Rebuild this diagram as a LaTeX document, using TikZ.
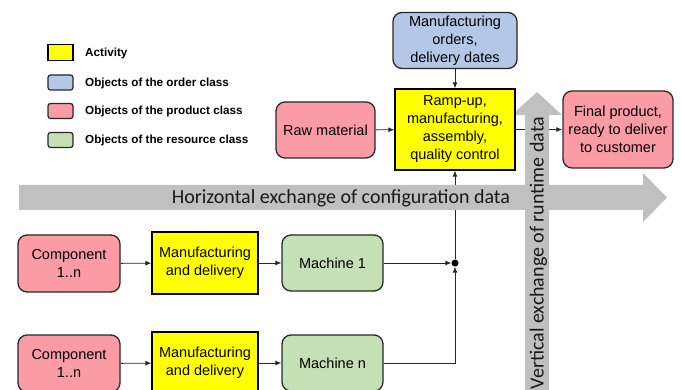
\documentclass[tikz,border=0pt]{standalone}
\usepackage{fontspec}
\setmainfont{Liberation Sans}
\newfontfamily\calfont{Carlito}
\usetikzlibrary{arrows.meta}
\pgfdeclarelayer{bg}
\pgfdeclarelayer{mid}
\pgfsetlayers{bg,mid,main}
\definecolor{actyellow}{RGB}{255,255,0}
\definecolor{ordblue}{RGB}{180,199,231}
\definecolor{prodred}{RGB}{250,155,166}
\definecolor{resgreen}{RGB}{197,224,180}
\definecolor{bandgray}{RGB}{192,192,192}
\definecolor{edge}{RGB}{40,40,40}
\tikzset{
  box/.style={draw=edge, line width=1.3pt, rounded corners=9pt, inner sep=0pt, align=center,
    font=\fontsize{14.5}{18}\selectfont},
  activity/.style={box, fill=actyellow, draw=black, rounded corners=0pt},
  order/.style={box, fill=ordblue},
  product/.style={box, fill=prodred},
  resource/.style={box, fill=resgreen},
  legbox/.style={draw=edge, line width=1.2pt, rounded corners=2.5pt, minimum width=25pt, minimum height=15pt, inner sep=0pt},
  legtext/.style={anchor=west, inner sep=0pt, font=\fontsize{11.7}{13}\selectfont\bfseries},
  conn/.style={draw=black!85, line width=0.9pt, -{Latex[length=6pt,width=5pt]}},
  bandtext/.style={font=\calfont\fontsize{20}{23}\selectfont, text=black!90, inner sep=0pt}
}
\begin{document}
\begin{tikzpicture}[x=1pt,y=-1pt]
\useasboundingbox (0,0) rectangle (681,390);
% legend
\node[legbox, fill=actyellow, draw=black, rounded corners=0pt, minimum height=16pt] (l1) at (60.5,52.5) {};
\node[legbox, fill=ordblue] (l2) at (60.5,82.5) {};
\node[legbox, fill=prodred] (l3) at (60.5,111) {};
\node[legbox, fill=resgreen] (l4) at (60.5,140) {};
\node[legtext] (t1) at (85,53) {Activity};
\node[legtext] (t2) at (85,83) {Objects of the order class};
\node[legtext] (t3) at (85,111.5) {Objects of the product class};
\node[legtext] (t4) at (85,140.5) {Objects of the resource class};
% top nodes
\node[order, minimum width=124pt, minimum height=56pt] (orders) at (455,40.5) {Manufacturing\\orders,\\delivery dates};
\node[activity, minimum width=120pt, minimum height=81pt] (ramp) at (455,129.5) {Ramp-up,\\manufacturing,\\assembly,\\quality control};
\node[product, minimum width=99pt, minimum height=56pt] (raw) at (325.5,130) {Raw material};
\node[product, minimum width=110pt, minimum height=77pt] (final) at (618,129.5) {Final product,\\ready to deliver\\to customer};
% bottom rows
\node[product, minimum width=102pt, minimum height=57pt] (c1) at (69,263.5) {Component\\1..n};
\node[activity, minimum width=106pt, minimum height=62pt] (md1) at (205,263) {Manufacturing\\and delivery};
\node[resource, minimum width=101pt, minimum height=56pt] (m1) at (332.5,263) {Machine 1};
\node[product, minimum width=102pt, minimum height=57pt] (cn) at (69,363.5) {Component\\1..n};
\node[activity, minimum width=106pt, minimum height=62pt] (mdn) at (205,363) {Manufacturing\\and delivery};
\node[resource, minimum width=101pt, minimum height=56pt] (mn) at (332.5,363) {Machine n};
\node[circle, fill=black, inner sep=0pt, minimum size=7pt] (dot) at (455,263) {};
% connectors
\begin{pgfonlayer}{bg}
\draw[conn] (orders) -- (ramp);
\draw[conn] (raw) -- (ramp);
\draw[conn] (ramp) -- (final);
\draw[conn] (c1) -- (md1);
\draw[conn] (md1) -- (m1);
\draw[conn] (m1) -- (dot);
\draw[conn] (cn) -- (mdn);
\draw[conn] (mdn) -- (mn);
\draw[conn] (mn.east) -| (dot);
\draw[conn] (dot) -- (ramp);
\end{pgfonlayer}
% gray arrows
\begin{pgfonlayer}{mid}
\fill[bandgray] (19,185) -- (643,185) -- (643,173) -- (667,197.5) -- (643,222) -- (643,210) -- (19,210) -- cycle;
\fill[bandgray] (525,400) -- (525,115) -- (512,115) -- (537,92) -- (562,115) -- (549,115) -- (549,400) -- cycle;
\end{pgfonlayer}
\node[bandtext] (htext) at (341,198) {Horizontal exchange of configuration data};
\node[bandtext, rotate=90] (vtext) at (538.5,253) {Vertical exchange of runtime data};
\end{tikzpicture}
\end{document}
